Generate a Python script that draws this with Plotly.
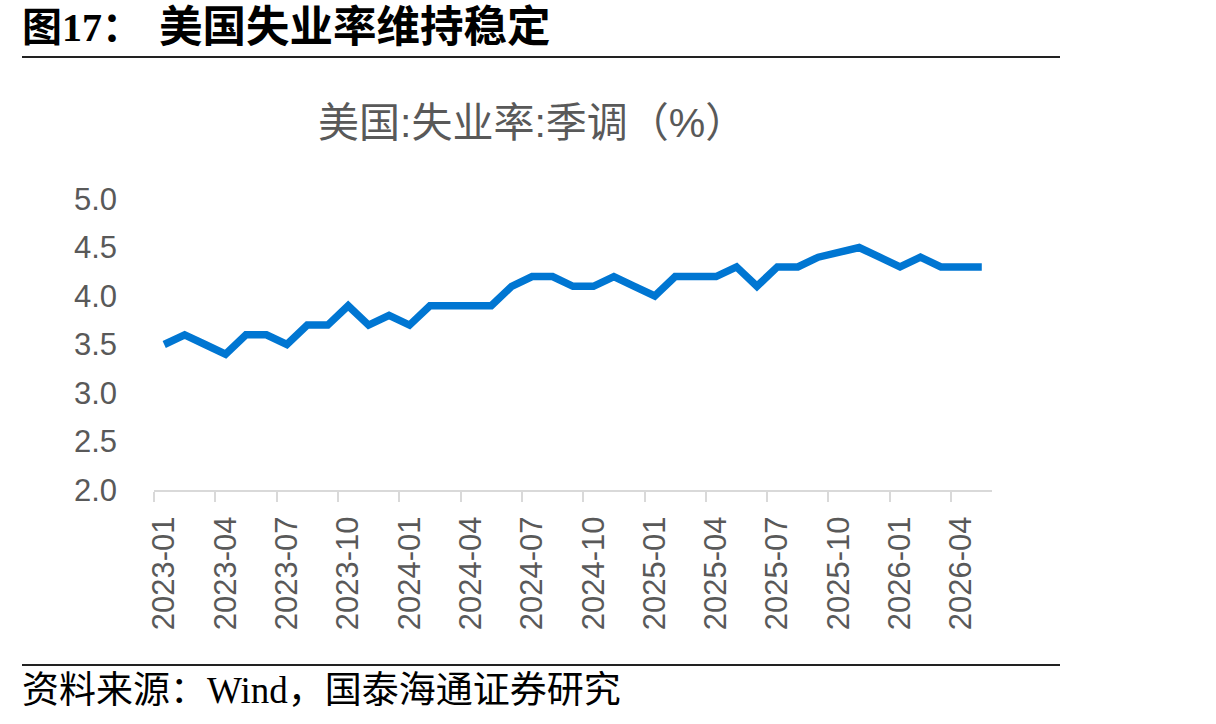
import plotly.graph_objects as go

# ---- data ----
months = [f"{y}-{m:02d}" for y in (2023, 2024, 2025, 2026) for m in range(1, 13)][:41]
unemployment = [
    3.5, 3.6, 3.5, 3.4, 3.6, 3.6, 3.5, 3.7, 3.7, 3.9, 3.7, 3.8,   # 2023
    3.7, 3.9, 3.9, 3.9, 3.9, 4.1, 4.2, 4.2, 4.1, 4.1, 4.2, 4.1,   # 2024
    4.0, 4.2, 4.2, 4.2, 4.3, 4.1, 4.3, 4.3, 4.4, None, 4.5, 4.4,  # 2025
    4.3, 4.4, 4.3, 4.3, 4.3,                                      # 2026
]
y_ticks = [2.0, 2.5, 3.0, 3.5, 4.0, 4.5, 5.0]
y_ticktext = [f"{v:.1f}" for v in y_ticks]

headline_label = "图17："
headline_text = "美国失业率维持稳定"
chart_title = "美国:失业率:季调（%）"
footer = "资料来源：Wind，国泰海通证券研究"

# ---- geometry helpers (pixel -> paper) ----
W, H = 1216, 724
L, R, T, B = 154, 224, 199, 234
PW, PH = W - L - R, H - T - B


def px(x):
    return (x - L) / PW


def py(y):
    return (H - B - y) / PH


fig = go.Figure()
fig.add_trace(go.Scatter(
    x=months, y=unemployment, mode="lines",
    connectgaps=True,
    line=dict(color="#0076D2", width=7.5),
    hoverinfo="x+y", showlegend=False,
))

tick_font = dict(family="Liberation Sans, Arial, sans-serif", size=31, color="#595959")

fig.update_layout(
    width=W, height=H,
    margin=dict(l=L, r=R, t=T, b=B, pad=0),
    paper_bgcolor="white", plot_bgcolor="white",
    xaxis=dict(
        type="category", range=[-0.5, len(months) - 0.5],
        dtick=3, tickson="boundaries", tickangle=-90,
        ticks="outside", ticklen=10, tickwidth=2, tickcolor="#D9D9D9",
        showline=True, linecolor="#D9D9D9", linewidth=2,
        showgrid=False, zeroline=False,
        tickfont=tick_font, ticklabelstandoff=12,
    ),
    yaxis=dict(
        range=[2, 5], tickvals=y_ticks, ticktext=y_ticktext,
        showline=False, showgrid=False, zeroline=False, ticks="",
        tickfont=tick_font, ticklabelstandoff=36,
    ),
    annotations=[
        dict(text="<b>" + headline_label + "</b>", xref="paper", yref="paper",
             x=px(20), y=py(27), xanchor="left", yanchor="middle", showarrow=False,
             font=dict(family="Liberation Serif, Noto Sans CJK SC", size=40, color="#000000")),
        dict(text="<b>" + headline_text + "</b>", xref="paper", yref="paper",
             x=px(157), y=py(27), xanchor="left", yanchor="middle", showarrow=False,
             font=dict(family="Liberation Serif, Noto Sans CJK SC", size=43.5, color="#000000")),
        dict(text=chart_title, xref="paper", yref="paper",
             x=px(532), y=py(123), xanchor="center", yanchor="middle", showarrow=False,
             font=dict(family="Liberation Sans, Noto Sans CJK SC", size=41, color="#595959")),
        dict(text=footer, xref="paper", yref="paper",
             x=px(20), y=py(690), xanchor="left", yanchor="middle", showarrow=False,
             font=dict(family="Liberation Serif, Noto Sans CJK SC", size=37, color="#000000")),
    ],
    shapes=[
        dict(type="line", xref="paper", yref="paper", x0=px(22), x1=px(1060), y0=py(57), y1=py(57),
             line=dict(color="#222222", width=2)),
        dict(type="line", xref="paper", yref="paper", x0=px(22), x1=px(1060), y0=py(665), y1=py(665),
             line=dict(color="#222222", width=2)),
    ],
)

fig.write_html("out.html")
